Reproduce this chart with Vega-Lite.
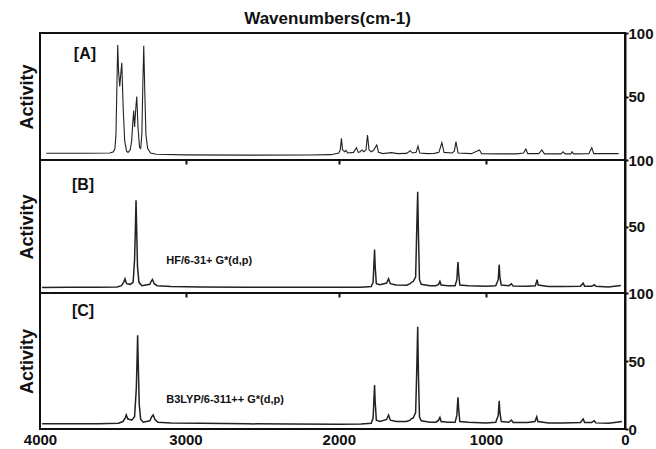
{
  "$schema": "https://vega.github.io/schema/vega-lite/v6.json",
  "background": "white",
  "padding": {"left": 17, "top": 10, "right": 0, "bottom": 0},
  "title": {"text": "Wavenumbers(cm-1)", "fontSize": 17, "fontWeight": "bold", "font": "Liberation Sans", "anchor": "middle", "offset": -3, "dx": -8, "color": "#111"},
  "config": {
    "font": "Liberation Sans",
    "view": {"stroke": "#111", "strokeWidth": 2},
    "axis": {"grid": false}
  },
  "spacing": 0,
  "bounds": "flush",
  "datasets": {
    "A": [
      {"wn": 3957, "v": 5.3}, {"wn": 3700, "v": 5.3}, {"wn": 3520, "v": 5.5}, {"wn": 3495, "v": 6.5},
      {"wn": 3485, "v": 9}, {"wn": 3478, "v": 20}, {"wn": 3472, "v": 55}, {"wn": 3466, "v": 90.5},
      {"wn": 3460, "v": 70}, {"wn": 3452, "v": 58}, {"wn": 3438, "v": 76.6}, {"wn": 3428, "v": 40},
      {"wn": 3418, "v": 15}, {"wn": 3405, "v": 7}, {"wn": 3395, "v": 6}, {"wn": 3380, "v": 8},
      {"wn": 3370, "v": 15}, {"wn": 3362, "v": 30}, {"wn": 3356, "v": 39}, {"wn": 3350, "v": 26},
      {"wn": 3342, "v": 40}, {"wn": 3335, "v": 50}, {"wn": 3326, "v": 25}, {"wn": 3316, "v": 10},
      {"wn": 3308, "v": 9}, {"wn": 3300, "v": 20}, {"wn": 3294, "v": 55}, {"wn": 3287, "v": 90},
      {"wn": 3280, "v": 55}, {"wn": 3272, "v": 20}, {"wn": 3260, "v": 9}, {"wn": 3240, "v": 5.5},
      {"wn": 3200, "v": 4.5}, {"wn": 3000, "v": 4}, {"wn": 2600, "v": 3.8}, {"wn": 2200, "v": 3.9},
      {"wn": 2050, "v": 4.2}, {"wn": 2000, "v": 5.5}, {"wn": 1990, "v": 8}, {"wn": 1982, "v": 17},
      {"wn": 1975, "v": 8}, {"wn": 1960, "v": 6.5}, {"wn": 1951, "v": 7.5}, {"wn": 1940, "v": 5.5},
      {"wn": 1900, "v": 6}, {"wn": 1880, "v": 9.7}, {"wn": 1868, "v": 6}, {"wn": 1855, "v": 6.5},
      {"wn": 1842, "v": 7.9}, {"wn": 1830, "v": 6.5}, {"wn": 1815, "v": 8}, {"wn": 1805, "v": 19.7},
      {"wn": 1795, "v": 8}, {"wn": 1780, "v": 6.5}, {"wn": 1765, "v": 7.5}, {"wn": 1742, "v": 11.8},
      {"wn": 1730, "v": 6}, {"wn": 1700, "v": 5}, {"wn": 1643, "v": 5.8}, {"wn": 1600, "v": 5},
      {"wn": 1540, "v": 5.2}, {"wn": 1514, "v": 7.3}, {"wn": 1500, "v": 5.5}, {"wn": 1475, "v": 6},
      {"wn": 1462, "v": 11}, {"wn": 1450, "v": 5.5}, {"wn": 1400, "v": 5}, {"wn": 1350, "v": 5.2},
      {"wn": 1320, "v": 6}, {"wn": 1300, "v": 13.6}, {"wn": 1285, "v": 6}, {"wn": 1230, "v": 5.5},
      {"wn": 1215, "v": 7}, {"wn": 1204, "v": 14.4}, {"wn": 1190, "v": 5.5}, {"wn": 1100, "v": 5},
      {"wn": 1044, "v": 7.9}, {"wn": 1030, "v": 5}, {"wn": 900, "v": 4.8}, {"wn": 780, "v": 4.8},
      {"wn": 730, "v": 5.5}, {"wn": 713, "v": 8.7}, {"wn": 700, "v": 5}, {"wn": 620, "v": 5},
      {"wn": 598, "v": 7.9}, {"wn": 580, "v": 4.8}, {"wn": 460, "v": 4.8}, {"wn": 446, "v": 6.5},
      {"wn": 430, "v": 4.8}, {"wn": 390, "v": 4.8}, {"wn": 381, "v": 6.5}, {"wn": 370, "v": 4.8},
      {"wn": 260, "v": 5}, {"wn": 239, "v": 9.7}, {"wn": 225, "v": 5}, {"wn": 120, "v": 5},
      {"wn": 45, "v": 5}
    ],
    "B": [
      {"wn": 3986, "v": 4.2}, {"wn": 3800, "v": 4.3}, {"wn": 3600, "v": 4.4}, {"wn": 3470, "v": 4.6},
      {"wn": 3440, "v": 5.5}, {"wn": 3425, "v": 8}, {"wn": 3416, "v": 10.7}, {"wn": 3405, "v": 7},
      {"wn": 3380, "v": 6.5}, {"wn": 3360, "v": 8}, {"wn": 3350, "v": 25}, {"wn": 3344, "v": 50},
      {"wn": 3340, "v": 69.8}, {"wn": 3336, "v": 50}, {"wn": 3330, "v": 20}, {"wn": 3320, "v": 8},
      {"wn": 3300, "v": 5.5}, {"wn": 3245, "v": 6.5}, {"wn": 3235, "v": 9}, {"wn": 3227, "v": 10.2},
      {"wn": 3215, "v": 7}, {"wn": 3195, "v": 5.5}, {"wn": 3100, "v": 4.8}, {"wn": 2900, "v": 4.5},
      {"wn": 2600, "v": 4.3}, {"wn": 2300, "v": 4.4}, {"wn": 2000, "v": 4.3}, {"wn": 1850, "v": 4.4},
      {"wn": 1780, "v": 4.8}, {"wn": 1767, "v": 8}, {"wn": 1760, "v": 25}, {"wn": 1757, "v": 32.6},
      {"wn": 1753, "v": 20}, {"wn": 1745, "v": 7}, {"wn": 1720, "v": 6.2}, {"wn": 1675, "v": 7.5},
      {"wn": 1662, "v": 10.7}, {"wn": 1650, "v": 7}, {"wn": 1610, "v": 6}, {"wn": 1540, "v": 5.8},
      {"wn": 1515, "v": 7}, {"wn": 1505, "v": 8.2}, {"wn": 1495, "v": 8.5}, {"wn": 1478, "v": 12},
      {"wn": 1470, "v": 50}, {"wn": 1464, "v": 76.1}, {"wn": 1459, "v": 45}, {"wn": 1452, "v": 10},
      {"wn": 1440, "v": 6.5}, {"wn": 1380, "v": 5.5}, {"wn": 1340, "v": 5.5}, {"wn": 1322, "v": 6.5},
      {"wn": 1313, "v": 8.7}, {"wn": 1305, "v": 6}, {"wn": 1260, "v": 5.5}, {"wn": 1210, "v": 5.5},
      {"wn": 1198, "v": 10}, {"wn": 1192, "v": 21}, {"wn": 1190, "v": 23.2}, {"wn": 1186, "v": 15},
      {"wn": 1178, "v": 6}, {"wn": 1120, "v": 5.5}, {"wn": 1000, "v": 5}, {"wn": 930, "v": 5.5},
      {"wn": 912, "v": 10}, {"wn": 905, "v": 21.3}, {"wn": 900, "v": 12}, {"wn": 890, "v": 6},
      {"wn": 835, "v": 5.5}, {"wn": 817, "v": 6.9}, {"wn": 805, "v": 5.2}, {"wn": 700, "v": 5},
      {"wn": 645, "v": 5.5}, {"wn": 632, "v": 10}, {"wn": 625, "v": 6}, {"wn": 550, "v": 4.8},
      {"wn": 450, "v": 4.8}, {"wn": 320, "v": 5}, {"wn": 301, "v": 7.4}, {"wn": 290, "v": 5},
      {"wn": 240, "v": 5}, {"wn": 221, "v": 6.2}, {"wn": 210, "v": 5}, {"wn": 120, "v": 4.5},
      {"wn": 60, "v": 5.2}, {"wn": 30, "v": 5.6}
    ],
    "C": [
      {"wn": 3986, "v": 3.8}, {"wn": 3800, "v": 3.8}, {"wn": 3600, "v": 3.8}, {"wn": 3460, "v": 4.2},
      {"wn": 3430, "v": 5.5}, {"wn": 3415, "v": 8}, {"wn": 3407, "v": 10.3}, {"wn": 3397, "v": 7.5},
      {"wn": 3370, "v": 6.5}, {"wn": 3350, "v": 9}, {"wn": 3338, "v": 30}, {"wn": 3332, "v": 55},
      {"wn": 3329, "v": 69}, {"wn": 3325, "v": 50}, {"wn": 3318, "v": 18}, {"wn": 3308, "v": 7},
      {"wn": 3290, "v": 5}, {"wn": 3245, "v": 6}, {"wn": 3232, "v": 9}, {"wn": 3222, "v": 10.3},
      {"wn": 3210, "v": 7}, {"wn": 3190, "v": 5}, {"wn": 3100, "v": 4.5}, {"wn": 2900, "v": 4.2},
      {"wn": 2600, "v": 3.8}, {"wn": 2300, "v": 3.6}, {"wn": 2000, "v": 3.5}, {"wn": 1850, "v": 3.7},
      {"wn": 1780, "v": 4.2}, {"wn": 1767, "v": 8}, {"wn": 1760, "v": 25}, {"wn": 1757, "v": 32.4},
      {"wn": 1753, "v": 20}, {"wn": 1745, "v": 6.5}, {"wn": 1720, "v": 5.5}, {"wn": 1675, "v": 7},
      {"wn": 1662, "v": 10.3}, {"wn": 1650, "v": 6.5}, {"wn": 1610, "v": 5.5}, {"wn": 1540, "v": 5.5},
      {"wn": 1515, "v": 6.5}, {"wn": 1505, "v": 7.8}, {"wn": 1495, "v": 8}, {"wn": 1478, "v": 12},
      {"wn": 1470, "v": 45}, {"wn": 1464, "v": 75.2}, {"wn": 1459, "v": 40}, {"wn": 1452, "v": 9},
      {"wn": 1440, "v": 6}, {"wn": 1380, "v": 5}, {"wn": 1340, "v": 5}, {"wn": 1322, "v": 6.5},
      {"wn": 1313, "v": 8.6}, {"wn": 1305, "v": 5.5}, {"wn": 1260, "v": 5}, {"wn": 1210, "v": 5},
      {"wn": 1198, "v": 10}, {"wn": 1192, "v": 21}, {"wn": 1190, "v": 23.3}, {"wn": 1186, "v": 15},
      {"wn": 1178, "v": 5.5}, {"wn": 1120, "v": 5}, {"wn": 1000, "v": 4.5}, {"wn": 930, "v": 5},
      {"wn": 912, "v": 10}, {"wn": 905, "v": 20.8}, {"wn": 900, "v": 12}, {"wn": 890, "v": 5.5},
      {"wn": 835, "v": 5}, {"wn": 817, "v": 6.6}, {"wn": 805, "v": 4.8}, {"wn": 700, "v": 4.8},
      {"wn": 648, "v": 5.5}, {"wn": 635, "v": 9}, {"wn": 627, "v": 5.5}, {"wn": 550, "v": 4.5},
      {"wn": 450, "v": 4.5}, {"wn": 320, "v": 4.8}, {"wn": 301, "v": 7.4}, {"wn": 290, "v": 4.8},
      {"wn": 240, "v": 4.8}, {"wn": 221, "v": 6.1}, {"wn": 210, "v": 4.5}, {"wn": 120, "v": 4.2},
      {"wn": 60, "v": 5}, {"wn": 22, "v": 5.5}
    ]
  },
  "vconcat": [
    {
      "width": 585, "height": 127,
      "resolve": {"scale": {"y": "independent"}},
      "layer": [
        {
          "data": {"name": "A"},
          "mark": {"type": "line", "color": "#222", "strokeWidth": 1.1},
          "encoding": {
            "x": {"field": "wn", "type": "quantitative", "scale": {"domain": [4000, 3000, 2000, 1000, 0], "range": [0, 145.5, 298.8, 446, 585]},
                  "axis": {"orient": "bottom", "values": [3000, 2000, 1000], "labels": false, "ticks": true, "tickSize": 4, "tickWidth": 2, "tickColor": "#111", "domain": false, "title": null}},
            "y": {"field": "v", "type": "quantitative", "scale": {"domain": [0, 100]},
                  "axis": {"orient": "left", "labels": false, "ticks": false, "domain": false, "title": "Activity", "titleFontSize": 18, "titleFontWeight": "bold", "titleColor": "#111", "titlePadding": 4}}
          }
        },
        {
          "data": {"values": [{"wn": 3691, "v": 83.5, "t": "[A]"}]},
          "mark": {"type": "text", "fontSize": 16, "fontWeight": "bold", "color": "#111", "align": "center", "baseline": "middle"},
          "encoding": {
            "x": {"field": "wn", "type": "quantitative", "scale": {"domain": [4000, 3000, 2000, 1000, 0], "range": [0, 145.5, 298.8, 446, 585]}},
            "y": {"field": "v", "type": "quantitative", "scale": {"domain": [0, 100]},
                  "axis": {"orient": "right", "values": [50, 100], "title": null, "labelFontSize": 15, "labelFontWeight": "bold", "labelColor": "#111", "tickSize": 3, "tickWidth": 2, "tickColor": "#111", "domainColor": "#111", "domainWidth": 2, "labelPadding": 0}},
            "text": {"field": "t"}
          }
        }
      ]
    },
    {
      "width": 585, "height": 133,
      "resolve": {"scale": {"y": "independent"}},
      "layer": [
        {
          "data": {"name": "B"},
          "mark": {"type": "line", "color": "#222", "strokeWidth": 1.5},
          "encoding": {
            "x": {"field": "wn", "type": "quantitative", "scale": {"domain": [4000, 3000, 2000, 1000, 0], "range": [0, 145.5, 298.8, 446, 585]},
                  "axis": {"orient": "bottom", "values": [3000, 2000, 1000], "labels": false, "ticks": true, "tickSize": 4, "tickWidth": 2, "tickColor": "#111", "domain": false, "title": null}},
            "y": {"field": "v", "type": "quantitative", "scale": {"domain": [0, 100]},
                  "axis": {"orient": "left", "labels": false, "ticks": false, "domain": false, "title": "Activity", "titleFontSize": 18, "titleFontWeight": "bold", "titleColor": "#111", "titlePadding": 4}}
          }
        },
        {
          "data": {"values": [{"wn": 3704, "v": 81, "t": "[B]"}]},
          "mark": {"type": "text", "fontSize": 16, "fontWeight": "bold", "color": "#111", "align": "center", "baseline": "middle"},
          "encoding": {
            "x": {"field": "wn", "type": "quantitative", "scale": {"domain": [4000, 3000, 2000, 1000, 0], "range": [0, 145.5, 298.8, 446, 585]}},
            "y": {"field": "v", "type": "quantitative", "scale": {"domain": [0, 100]},
                  "axis": {"orient": "right", "values": [50, 100], "title": null, "labelFontSize": 15, "labelFontWeight": "bold", "labelColor": "#111", "tickSize": 3, "tickWidth": 2, "tickColor": "#111", "domainColor": "#111", "domainWidth": 2, "labelPadding": 0}},
            "text": {"field": "t"}
          }
        },
        {
          "data": {"values": [{"wn": 3132, "v": 23.8, "t": "HF/6-31+ G*(d,p)"}]},
          "mark": {"type": "text", "fontSize": 11, "fontWeight": "bold", "color": "#111", "align": "left", "baseline": "middle"},
          "encoding": {
            "x": {"field": "wn", "type": "quantitative", "scale": {"domain": [4000, 3000, 2000, 1000, 0], "range": [0, 145.5, 298.8, 446, 585]}},
            "y": {"field": "v", "type": "quantitative", "scale": {"domain": [0, 100]}, "axis": null},
            "text": {"field": "t"}
          }
        }
      ]
    },
    {
      "width": 585, "height": 136,
      "resolve": {"scale": {"y": "independent"}},
      "layer": [
        {
          "data": {"name": "C"},
          "mark": {"type": "line", "color": "#222", "strokeWidth": 1.5},
          "encoding": {
            "x": {"field": "wn", "type": "quantitative", "scale": {"domain": [4000, 3000, 2000, 1000, 0], "range": [0, 145.5, 298.8, 446, 585]},
                  "axis": {"orient": "bottom", "values": [4000, 3000, 2000, 1000, 0], "format": "d", "labels": true, "labelFlush": false, "labelFontSize": 15, "labelFontWeight": "bold", "labelColor": "#111", "labelPadding": 3, "ticks": false, "domain": false, "title": null, "labelOverlap": false}},
            "y": {"field": "v", "type": "quantitative", "scale": {"domain": [0, 100]},
                  "axis": {"orient": "left", "labels": false, "ticks": false, "domain": false, "title": "Activity", "titleFontSize": 18, "titleFontWeight": "bold", "titleColor": "#111", "titlePadding": 4}}
          }
        },
        {
          "data": {"values": [{"wn": 3704, "v": 86.4, "t": "[C]"}]},
          "mark": {"type": "text", "fontSize": 16, "fontWeight": "bold", "color": "#111", "align": "center", "baseline": "middle"},
          "encoding": {
            "x": {"field": "wn", "type": "quantitative", "scale": {"domain": [4000, 3000, 2000, 1000, 0], "range": [0, 145.5, 298.8, 446, 585]}},
            "y": {"field": "v", "type": "quantitative", "scale": {"domain": [0, 100]},
                  "axis": {"orient": "right", "values": [0, 50, 100], "title": null, "labelFontSize": 15, "labelFontWeight": "bold", "labelColor": "#111", "tickSize": 3, "tickWidth": 2, "tickColor": "#111", "domainColor": "#111", "domainWidth": 2, "labelPadding": 0}},
            "text": {"field": "t"}
          }
        },
        {
          "data": {"values": [{"wn": 3132, "v": 21.3, "t": "B3LYP/6-311++ G*(d,p)"}]},
          "mark": {"type": "text", "fontSize": 11, "fontWeight": "bold", "color": "#111", "align": "left", "baseline": "middle"},
          "encoding": {
            "x": {"field": "wn", "type": "quantitative", "scale": {"domain": [4000, 3000, 2000, 1000, 0], "range": [0, 145.5, 298.8, 446, 585]}},
            "y": {"field": "v", "type": "quantitative", "scale": {"domain": [0, 100]}, "axis": null},
            "text": {"field": "t"}
          }
        }
      ]
    }
  ]
}
